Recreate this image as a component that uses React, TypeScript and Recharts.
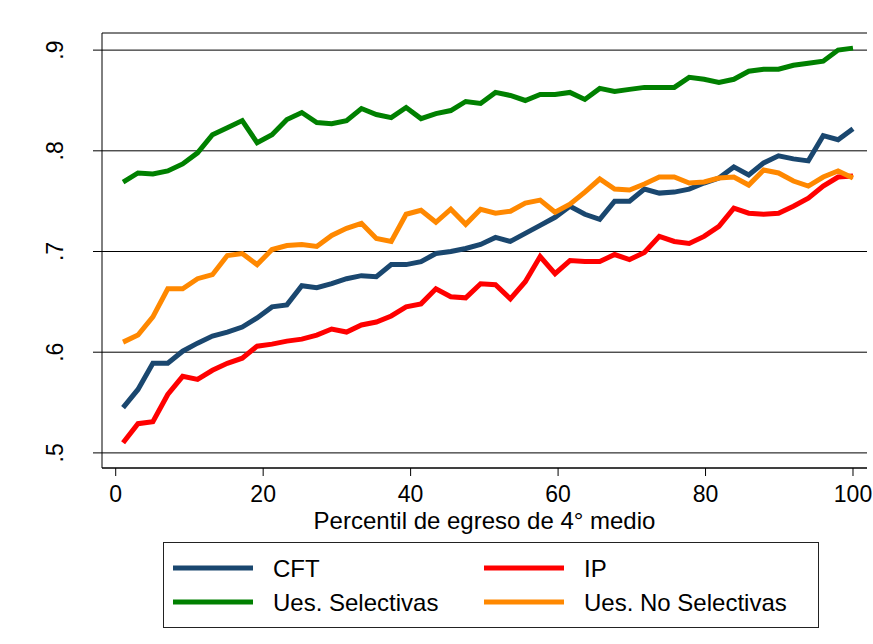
import React from "react";
import { LineChart, Line, XAxis, YAxis, CartesianGrid } from "recharts";

// Percentile positions (50 bins)
const xValues = [
  1.0, 3.02, 5.04, 7.06, 9.08, 11.1, 13.12, 15.14, 17.16, 19.18,
  21.2, 23.22, 25.24, 27.27, 29.29, 31.31, 33.33, 35.35, 37.37, 39.39,
  41.41, 43.43, 45.45, 47.47, 49.49, 51.51, 53.53, 55.55, 57.57, 59.59,
  61.61, 63.63, 65.65, 67.67, 69.69, 71.71, 73.73, 75.76, 77.78, 79.8,
  81.82, 83.84, 85.86, 87.88, 89.9, 91.92, 93.94, 95.96, 97.98, 100.0,
];

const cftValues = [
  0.545, 0.563, 0.589, 0.589, 0.601, 0.609, 0.616, 0.62, 0.625, 0.634,
  0.645, 0.647, 0.666, 0.664, 0.668, 0.673, 0.676, 0.675, 0.687, 0.687,
  0.69, 0.698, 0.7, 0.703, 0.707, 0.714, 0.71, 0.718, 0.726, 0.734,
  0.745, 0.737, 0.732, 0.75, 0.75, 0.762, 0.758, 0.759, 0.762, 0.768,
  0.773, 0.784, 0.776, 0.788, 0.795, 0.792, 0.79, 0.815, 0.811, 0.822,
];

const ipValues = [
  0.51, 0.529, 0.531, 0.558, 0.576, 0.573, 0.582, 0.589, 0.594, 0.606,
  0.608, 0.611, 0.613, 0.617, 0.623, 0.62, 0.627, 0.63, 0.636, 0.645,
  0.648, 0.663, 0.655, 0.654, 0.668, 0.667, 0.653, 0.67, 0.695, 0.678,
  0.691, 0.69, 0.69, 0.697, 0.692, 0.699, 0.715, 0.71, 0.708, 0.715,
  0.725, 0.743, 0.738, 0.737, 0.738, 0.745, 0.753, 0.765, 0.774, 0.775,
];

const selValues = [
  0.769, 0.778, 0.777, 0.78, 0.787, 0.798, 0.816, 0.823, 0.83, 0.808,
  0.816, 0.831, 0.838, 0.828, 0.827, 0.83, 0.842, 0.836, 0.833, 0.843,
  0.832, 0.837, 0.84, 0.849, 0.847, 0.858, 0.855, 0.85, 0.856, 0.856,
  0.858, 0.851, 0.862, 0.859, 0.861, 0.863, 0.863, 0.863, 0.873, 0.871,
  0.868, 0.871, 0.879, 0.881, 0.881, 0.885, 0.887, 0.889, 0.9, 0.902,
];

const noSelValues = [
  0.61, 0.617, 0.635, 0.663, 0.663, 0.673, 0.677, 0.696, 0.698, 0.687,
  0.702, 0.706, 0.707, 0.705, 0.716, 0.723, 0.728, 0.713, 0.71, 0.737,
  0.741, 0.729, 0.742, 0.727, 0.742, 0.738, 0.74, 0.748, 0.751, 0.739,
  0.747, 0.759, 0.772, 0.762, 0.761, 0.767, 0.774, 0.774, 0.768, 0.769,
  0.773, 0.774, 0.766, 0.781, 0.778, 0.77, 0.765, 0.774, 0.78, 0.773,
];

const xTicks = [0, 20, 40, 60, 80, 100];
const yTicks = [0.5, 0.6, 0.7, 0.8, 0.9];
const xTitle = "Percentil de egreso de 4° medio";

const series = [
  { key: "cft", name: "CFT", color: "#1a476f", values: cftValues },
  { key: "ip", name: "IP", color: "#ff0000", values: ipValues },
  { key: "sel", name: "Ues. Selectivas", color: "#008000", values: selValues },
  { key: "nosel", name: "Ues. No Selectivas", color: "#ff8800", values: noSelValues },
];

const data = xValues.map((x, i) => {
  const row: Record<string, number> = { x };
  series.forEach((s) => {
    row[s.key] = s.values[i];
  });
  return row;
});

const FONT = '"Liberation Sans", Arial, Helvetica, sans-serif';

const fmtY = (v: number) => v.toFixed(1).replace(/^0/, "");

const YTick = (props: any) => {
  const { x, y, payload } = props;
  const bx = x - 30;
  return (
    <text
      x={bx}
      y={y}
      transform={`rotate(-90, ${bx}, ${y})`}
      textAnchor="middle"
      fontFamily={FONT}
      fontSize={23}
      fill="#000"
    >
      {fmtY(payload.value)}
    </text>
  );
};

const XTick = (props: any) => {
  const { x, y, payload } = props;
  return (
    <text x={x} y={y + 26} textAnchor="middle" fontFamily={FONT} fontSize={23} fill="#000">
      {payload.value}
    </text>
  );
};

const XTitle = (props: any) => {
  const vb = props.viewBox || {};
  return (
    <text
      x={vb.x + vb.width / 2}
      y={vb.y + 61}
      textAnchor="middle"
      fontFamily={FONT}
      fontSize={24}
      fill="#000"
    >
      {xTitle}
    </text>
  );
};

const Legend2 = () => {
  const cols = [0, 311];
  const rows = [25, 59];
  return (
    <div
      style={{
        position: "absolute",
        left: 163,
        top: 542,
        width: 656,
        height: 86,
        border: "1px solid #222",
        boxSizing: "border-box",
        background: "#fff",
      }}
    >
      <svg width={654} height={84}>
        {series.map((s, i) => {
          const cx = cols[i % 2];
          const cy = rows[Math.floor(i / 2)];
          return (
            <g key={s.key}>
              <line x1={cx + 9} x2={cx + 89} y1={cy} y2={cy} stroke={s.color} strokeWidth={5} />
              <text x={cx + 109} y={cy + 8.5} fontFamily={FONT} fontSize={24} fill="#000">
                {s.name}
              </text>
            </g>
          );
        })}
      </svg>
    </div>
  );
};

export default function App() {
  return (
    <div
      style={{
        position: "absolute",
        left: 0,
        top: 0,
        width: 873,
        height: 644,
        background: "#fff",
        overflow: "hidden",
      }}
    >
      <LineChart
        width={873}
        height={644}
        data={data}
        margin={{ top: 33, right: 6, left: 0, bottom: 106 }}
      >
        <CartesianGrid horizontal={true} vertical={false} stroke="#000" strokeWidth={1} />
        <XAxis
          dataKey="x"
          type="number"
          domain={[-1.86, 101.9]}
          ticks={xTicks}
          allowDataOverflow
          height={70}
          tickSize={8}
          tickMargin={0}
          stroke="#000"
          tick={<XTick />}
          label={{ content: (p: any) => <XTitle {...p} /> }}
        />
        <YAxis
          type="number"
          domain={[0.485, 0.917]}
          ticks={yTicks}
          allowDataOverflow
          width={102}
          tickSize={9}
          tickMargin={0}
          stroke="#000"
          tick={<YTick />}
        />
        {series.map((s) => (
          <Line
            key={s.key}
            type="linear"
            dataKey={s.key}
            name={s.name}
            stroke={s.color}
            strokeWidth={5}
            dot={false}
            activeDot={false}
            isAnimationActive={false}
          />
        ))}
      </LineChart>
      <Legend2 />
    </div>
  );
}
